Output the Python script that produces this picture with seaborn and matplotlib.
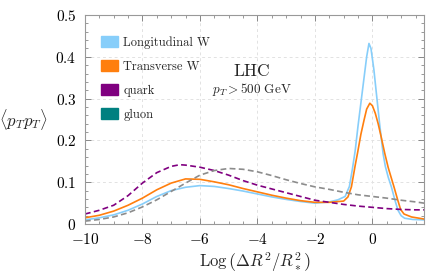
import numpy as np
import pandas as pd
import matplotlib
matplotlib.use("Agg")
import matplotlib.pyplot as plt
from matplotlib.patches import Patch
from matplotlib.ticker import MultipleLocator
import seaborn as sns

# Longitudinal W
x_long = [-10, -9.5, -9, -8.5, -8, -7.5, -7, -6.5, -6, -5.5, -5, -4.5, -4, -3.5, -3, -2.5, -2,
          -1.5, -1.2, -0.95, -0.8, -0.7, -0.6, -0.5, -0.4, -0.3, -0.2, -0.12, -0.05, 0.05, 0.15,
          0.25, 0.37, 0.45, 0.55, 0.66, 0.78, 0.89, 1.0, 1.12, 1.4, 1.8]
y_long = [0.010, 0.015, 0.022, 0.033, 0.048, 0.066, 0.080, 0.088, 0.092, 0.090, 0.085, 0.079,
          0.072, 0.065, 0.059, 0.054, 0.050, 0.053, 0.058, 0.066, 0.090, 0.130, 0.175, 0.235,
          0.290, 0.345, 0.400, 0.432, 0.420, 0.370, 0.305, 0.240, 0.169, 0.138, 0.112, 0.089,
          0.058, 0.033, 0.020, 0.014, 0.011, 0.010]

# Transverse W
x_trans = [-10, -9.5, -9, -8.5, -8, -7.5, -7, -6.5, -6, -5.5, -5, -4.5, -4, -3.5, -3, -2.5, -2,
           -1.5, -1.0, -0.85, -0.73, -0.6, -0.52, -0.4, -0.29, -0.2, -0.09, 0.0, 0.1, 0.2, 0.3,
           0.43, 0.55, 0.65, 0.75, 0.87, 0.98, 1.1, 1.36, 1.8]
y_trans = [0.015, 0.021, 0.031, 0.045, 0.062, 0.082, 0.098, 0.108, 0.107, 0.101, 0.094, 0.085,
           0.077, 0.069, 0.062, 0.056, 0.052, 0.052, 0.055, 0.065, 0.089, 0.140, 0.169, 0.215,
           0.249, 0.275, 0.289, 0.283, 0.265, 0.240, 0.210, 0.169, 0.135, 0.112, 0.089, 0.060,
           0.035, 0.024, 0.017, 0.012]

# quark
x_quark = [-10, -9.5, -9, -8.5, -8, -7.5, -7, -6.7, -6.5, -6, -5.5, -5, -4.5, -4, -3.5, -3,
           -2.5, -2, -1.5, -1, -0.5, 0, 0.5, 1, 1.5, 1.8]
y_quark = [0.024, 0.033, 0.045, 0.068, 0.098, 0.123, 0.138, 0.142, 0.141, 0.136, 0.128, 0.117,
           0.104, 0.093, 0.084, 0.075, 0.066, 0.057, 0.052, 0.047, 0.043, 0.040, 0.037, 0.035,
           0.034, 0.034]

# gluon
x_gluon = [-10, -9.5, -9, -8.5, -8, -7.5, -7, -6.5, -6, -5.5, -5, -4.5, -4, -3.5, -3, -2.5,
           -2, -1.5, -1, -0.5, 0, 0.5, 1, 1.5, 1.8]
y_gluon = [0.007, 0.011, 0.017, 0.027, 0.041, 0.058, 0.078, 0.098, 0.117, 0.128, 0.133, 0.131,
           0.125, 0.116, 0.106, 0.097, 0.089, 0.083, 0.076, 0.070, 0.066, 0.062, 0.057, 0.053,
           0.050]

labels = ["Longitudinal W", "Transverse W", "quark", "gluon"]
line_colors = {"Longitudinal W": "#87CEFA", "Transverse W": "#FF7F0E",
               "quark": "#800080", "gluon": "#8C8C8C"}
legend_colors = ["#87CEFA", "#FF7F0E", "#800080", "#008080"]

df = pd.concat([
    pd.DataFrame({"x": x_long, "y": y_long, "kind": "Longitudinal W"}),
    pd.DataFrame({"x": x_trans, "y": y_trans, "kind": "Transverse W"}),
    pd.DataFrame({"x": x_quark, "y": y_quark, "kind": "quark"}),
    pd.DataFrame({"x": x_gluon, "y": y_gluon, "kind": "gluon"}),
], ignore_index=True)

sns.set_style("ticks")
plt.rcParams["font.family"] = ["cmr10", "DejaVu Serif"]
plt.rcParams["mathtext.fontset"] = "cm"
plt.rcParams["axes.formatter.use_mathtext"] = True

fig = plt.figure(figsize=(4.4, 2.78), dpi=100)
ax = fig.add_axes([0.193, 0.194, 0.771, 0.752])

sns.lineplot(data=df, x="x", y="y", hue="kind", style="kind", palette=line_colors,
             dashes={"Longitudinal W": "", "Transverse W": "", "quark": (3.5, 2),
                     "gluon": (3.5, 2)},
             sort=False, linewidth=1.2, ax=ax, legend=False)

ax.set_xlim(-10, 1.8)
ax.set_ylim(0, 0.5)
ax.xaxis.set_minor_locator(MultipleLocator(0.5))
ax.yaxis.set_minor_locator(MultipleLocator(0.02))
xt = [-10, -8, -6, -4, -2, 0]
ax.set_xticks(xt)
ax.set_xticklabels(["$%d$" % v for v in xt])
yt = [0, 0.1, 0.2, 0.3, 0.4, 0.5]
ax.set_yticks(yt)
ax.set_yticklabels(["$0$", "$0.1$", "$0.2$", "$0.3$", "$0.4$", "$0.5$"])
ax.tick_params(which="both", direction="in", top=True, right=True, colors="#888888",
               labelcolor="black", labelsize=11)
ax.tick_params(which="major", length=4, width=0.7)
ax.tick_params(which="minor", length=2, width=0.6)
ax.tick_params(axis="x", which="major", pad=6)
ax.tick_params(axis="y", which="major", pad=6)
for s in ax.spines.values():
    s.set_color("#999999")
    s.set_linewidth(0.8)
ax.grid(True, which="major", linestyle=(0, (3, 3)), color="#E2E2E2", linewidth=0.7)
ax.set_axisbelow(True)

ax.set_xlabel(r"$\mathrm{Log}\,\left(\Delta R^2/R_*^2\right)$", fontsize=12, labelpad=2)
ax.set_ylabel(r"$\langle p_T p_T\rangle$", fontsize=12, rotation=0, labelpad=23, va="center")

handles = [Patch(facecolor=c, edgecolor=c) for c in legend_colors]
ax.legend(handles, labels, loc="upper left", bbox_to_anchor=(0.015, 0.952), frameon=False,
          fontsize=9, handlelength=1.3, handleheight=0.9, labelspacing=0.92,
          handletextpad=0.45)

ax.text(-4.2, 0.365, "LHC", fontsize=12.5, ha="center", va="center")
ax.text(-4.2, 0.322, r"$p_T > 500\ \mathrm{GeV}$", fontsize=9.5, ha="center", va="center")

fig.savefig("out.png", dpi=100)
